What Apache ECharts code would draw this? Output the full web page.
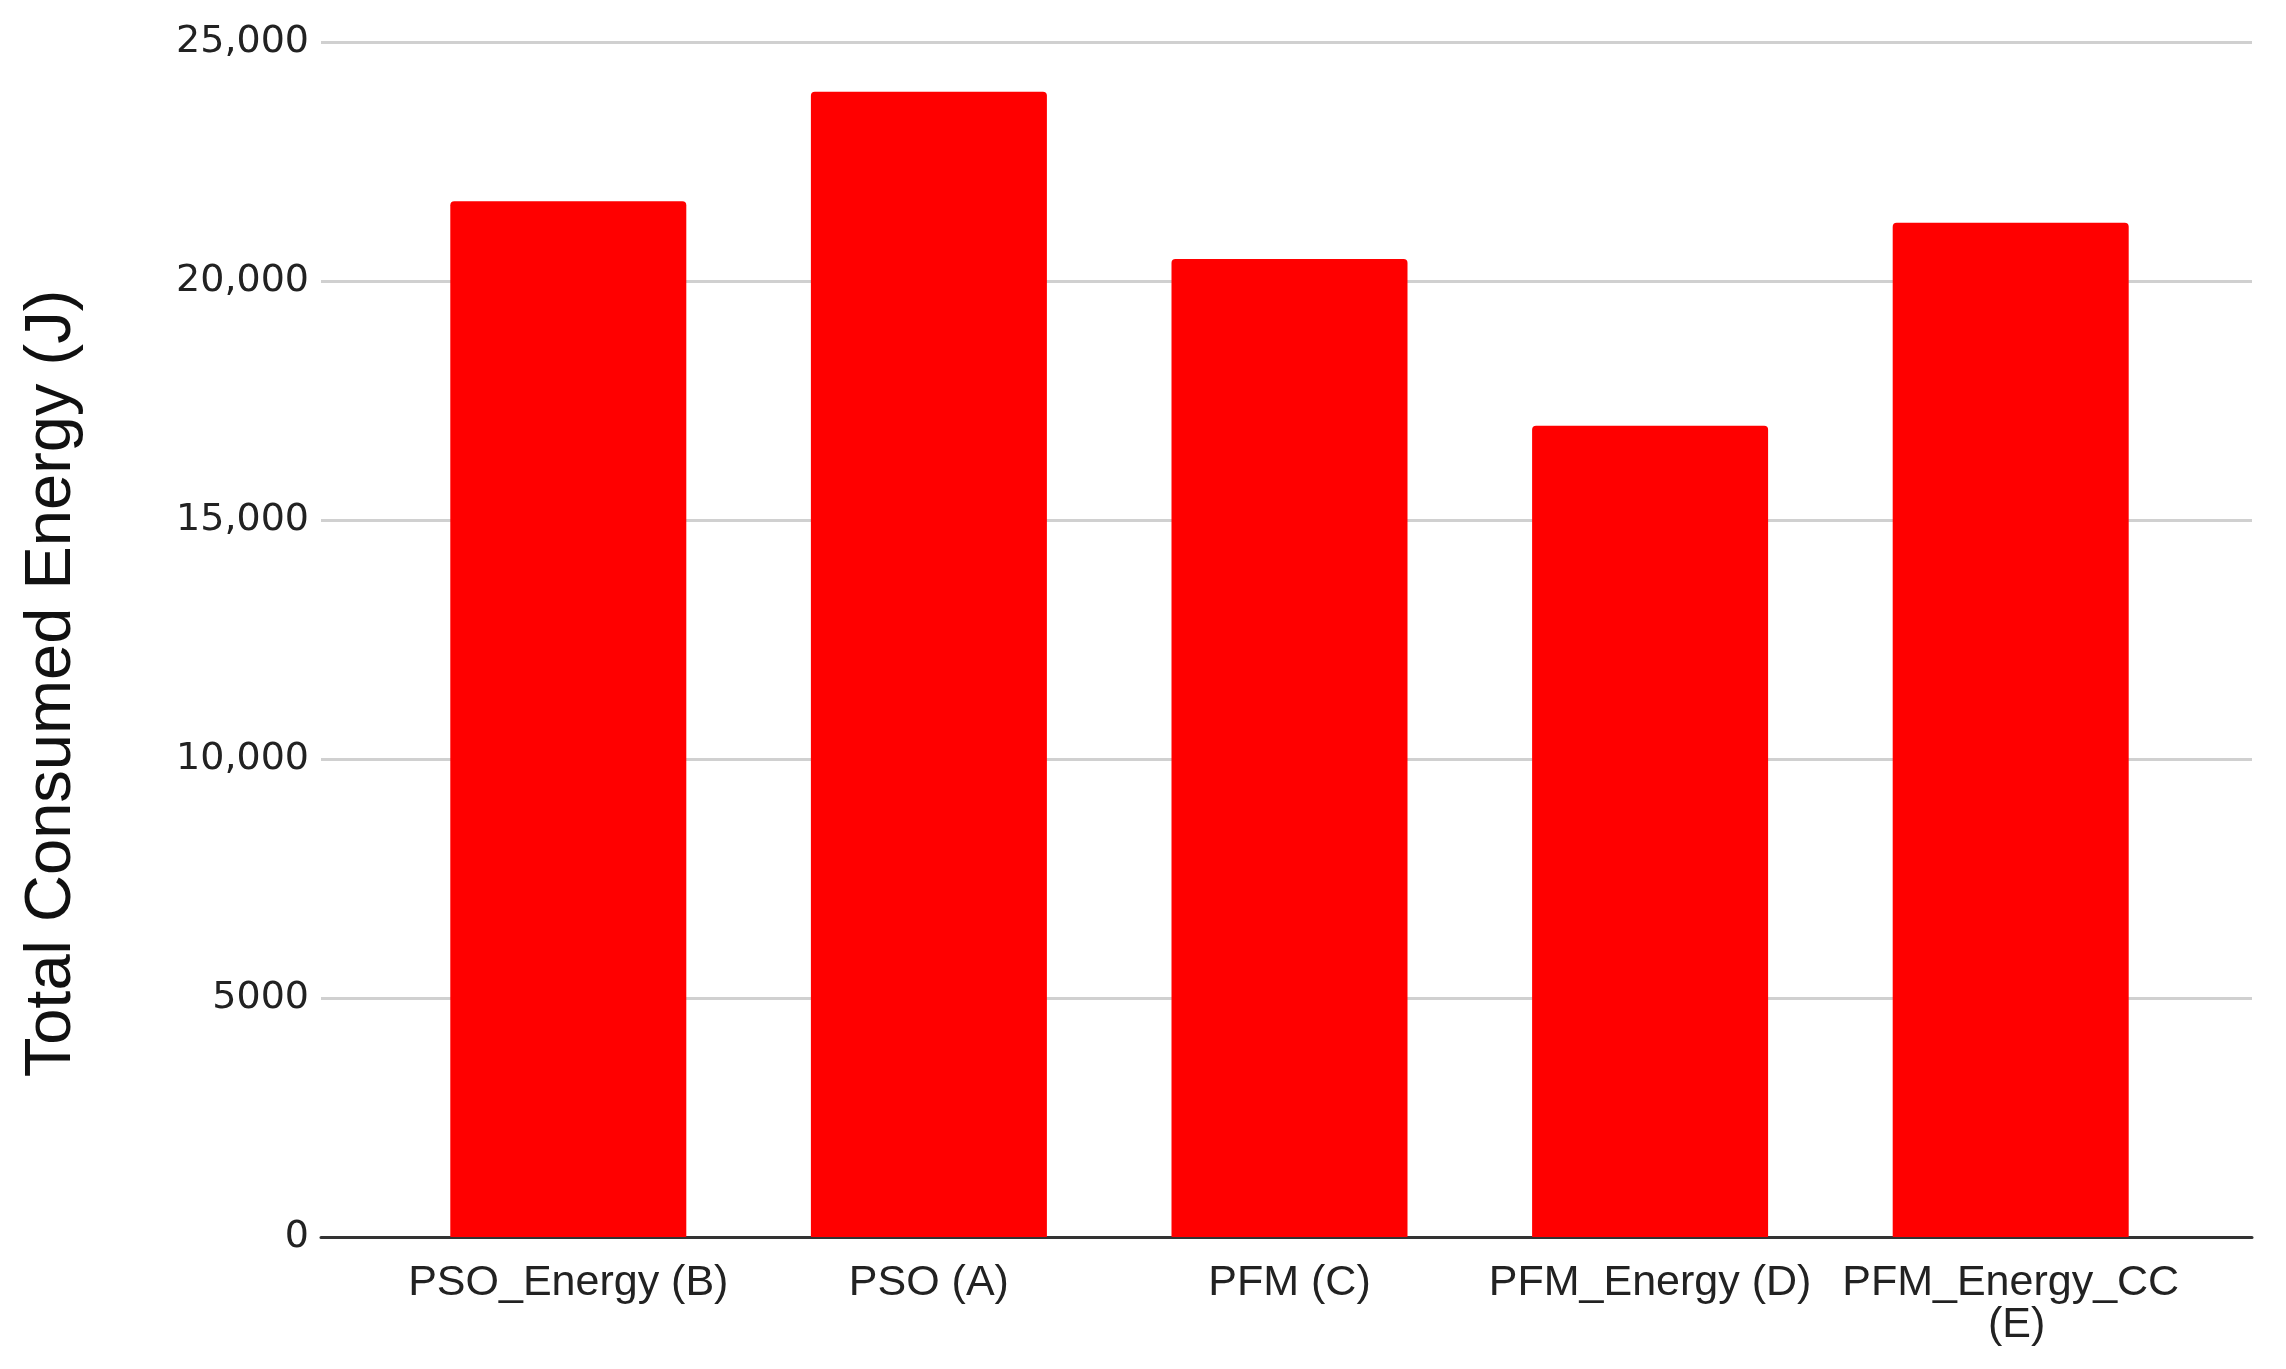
<!DOCTYPE html>
<html>
<head>
<meta charset="utf-8">
<script src="https://cdn.jsdelivr.net/npm/echarts@6/dist/echarts.min.js"></script>
<style>
html,body{margin:0;padding:0;background:#fff;}
#chart{width:2286px;height:1369px;}
</style>
</head>
<body>
<div id="chart"></div>
<script>
const categories = ["PSO_Energy (B)", "PSO (A)", "PFM (C)", "PFM_Energy (D)", "PFM_Energy_CC (E)"];
const energyValues = [21670, 23960, 20460, 16970, 21220];
const yTicks = [0, 5000, 10000, 15000, 20000, 25000];
const yAxisTitle = "Total Consumed Energy (J)";

const yMin = yTicks[0];
const yMax = yTicks[yTicks.length - 1];
const yStep = yTicks[1] - yTicks[0];

const chart = echarts.init(document.getElementById('chart'), null, {renderer: 'canvas'});

function fmtTick(v) {
  if (v < 10000) return String(v);
  return v.toLocaleString('en-US');
}

const option = {
  backgroundColor: '#ffffff',
  animation: false,
  grid: [
    {left: 321, right: 34, top: 42, bottom: 132, containLabel: false},
    {left: 388, right: 95, top: 42, bottom: 132, containLabel: false}
  ],
  xAxis: [
    {
      gridIndex: 0, type: 'category', data: categories,
      axisLine: {show: true, lineStyle: {color: '#333333', width: 3}},
      axisTick: {show: false}, axisLabel: {show: false}, splitLine: {show: false}
    },
    {
      gridIndex: 1, type: 'category', data: categories,
      axisLine: {show: false}, axisTick: {show: false},
      axisLabel: {
        show: true, interval: 0, margin: 25,
        fontFamily: '"Liberation Sans", Arial, sans-serif', fontSize: 43,
        color: '#222222', width: 345, overflow: 'break', lineHeight: 42
      },
      splitLine: {show: false}
    }
  ],
  yAxis: [
    {
      gridIndex: 0, type: 'value', min: yMin, max: yMax, interval: yStep,
      axisLine: {show: false}, axisTick: {show: false},
      axisLabel: {
        formatter: fmtTick, margin: 12,
        fontFamily: '"DejaVu Sans", Verdana, sans-serif', fontSize: 38, color: '#222222'
      },
      splitLine: {show: true, lineStyle: {color: '#d0d0d0', width: 3}},
      name: yAxisTitle, nameLocation: 'middle', nameGap: 236, nameRotate: 90,
      nameTextStyle: {
        fontFamily: '"Liberation Sans", Arial, sans-serif', fontSize: 65, color: '#111111',
        padding: [0, 88, 0, 0]
      }
    },
    {
      gridIndex: 1, type: 'value', min: yMin, max: yMax, interval: yStep,
      show: false, splitLine: {show: false}
    }
  ],
  series: [
    {
      type: 'bar', xAxisIndex: 1, yAxisIndex: 1,
      data: energyValues, barWidth: 236,
      itemStyle: {color: '#ff0000', borderRadius: [4, 4, 0, 0]}
    }
  ]
};
chart.setOption(option);
</script>
</body>
</html>
